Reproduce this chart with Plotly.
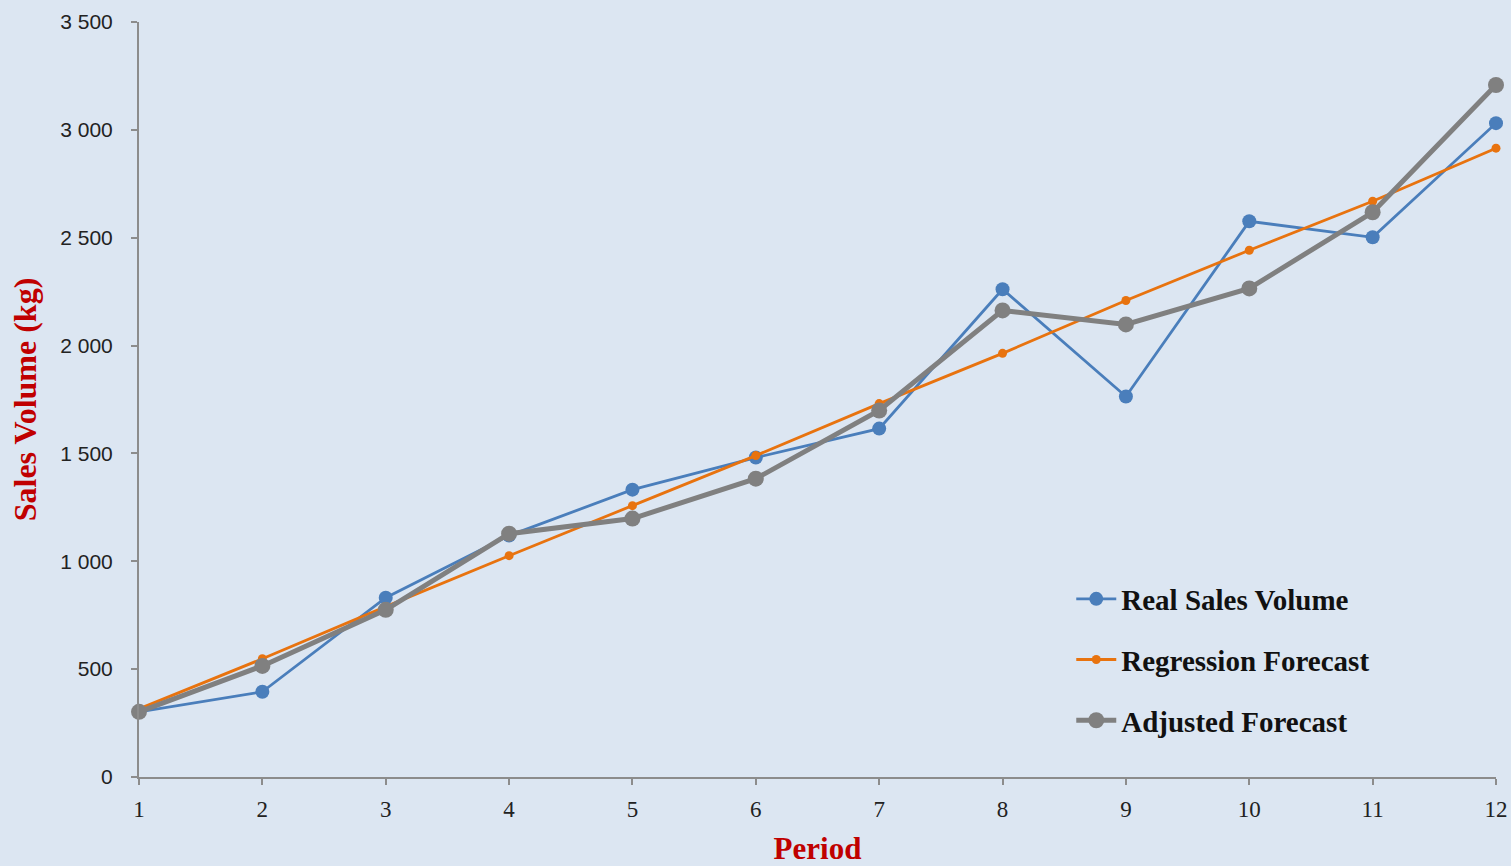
import plotly.graph_objects as go

periods = [1, 2, 3, 4, 5, 6, 7, 8, 9, 10, 11, 12]
real_sales = [302, 395, 831, 1119, 1332, 1481, 1615, 2261, 1764, 2576, 2502, 3031]
regression_forecast = [316, 548, 790, 1026, 1258, 1490, 1731, 1964, 2209, 2442, 2669, 2915]
adjusted_forecast = [302, 515, 775, 1128, 1198, 1383, 1699, 2163, 2098, 2265, 2618, 3208]

y_ticks = [0, 500, 1000, 1500, 2000, 2500, 3000, 3500]

BG = "#DCE6F2"
AXIS = "#8C8C8C"
TITLE_RED = "#C00000"
SERIF = "Liberation Serif, DejaVu Serif, serif"

fig = go.Figure()

fig.add_trace(go.Scatter(
    x=periods, y=real_sales, name="Real Sales Volume",
    mode="lines+markers", legendgroup="a",
    line=dict(color="#4A7EBB", width=2.8),
    marker=dict(color="#4A7EBB", size=14),
    cliponaxis=False,
))
fig.add_trace(go.Scatter(
    x=periods, y=regression_forecast, name="Regression Forecast",
    mode="lines+markers", legendgroup="b",
    line=dict(color="#E8730F", width=2.8),
    marker=dict(color="#E8730F", size=9),
    cliponaxis=False,
))
fig.add_trace(go.Scatter(
    x=periods, y=adjusted_forecast, name="Adjusted Forecast",
    mode="lines+markers", legendgroup="c",
    line=dict(color="#808080", width=5),
    marker=dict(color="#808080", size=16),
    cliponaxis=False,
))

fig.update_layout(
    width=1511, height=866,
    paper_bgcolor=BG, plot_bgcolor=BG,
    margin=dict(l=139, r=15, t=22, b=89, autoexpand=False),
    separators=". ",
    showlegend=True,
    legend=dict(
        x=0.687, y=0.155, xanchor="left", yanchor="middle",
        bgcolor="rgba(0,0,0,0)",
        font=dict(family=SERIF, size=29, color="#111111", weight="bold"),
        traceorder="grouped", tracegroupgap=20,
        itemwidth=40,
    ),
    xaxis=dict(
        range=[1, 12], tickvals=periods, showgrid=False, zeroline=False,
        showline=True, linecolor=AXIS, linewidth=2,
        ticks="outside", ticklen=6, tickcolor=AXIS, tickwidth=2,
        ticklabelstandoff=4,
        tickfont=dict(family=SERIF, size=23, color="#222222"),
        title=dict(text="Period", standoff=18,
                   font=dict(family=SERIF, size=31, color=TITLE_RED, weight="bold")),
    ),
    yaxis=dict(
        range=[0, 3500], tickvals=y_ticks, tickformat=",d",
        showgrid=False, zeroline=False,
        showline=True, linecolor=AXIS, linewidth=2,
        ticks="outside", ticklen=6, tickcolor=AXIS, tickwidth=2,
        ticklabelstandoff=14,
        tickfont=dict(family="Liberation Sans, Arial, sans-serif", size=21, color="#222222"),
        title=dict(text="Sales Volume (kg)", standoff=14,
                   font=dict(family=SERIF, size=32, color=TITLE_RED, weight="bold")),
    ),
)

fig.write_html("out.html")
